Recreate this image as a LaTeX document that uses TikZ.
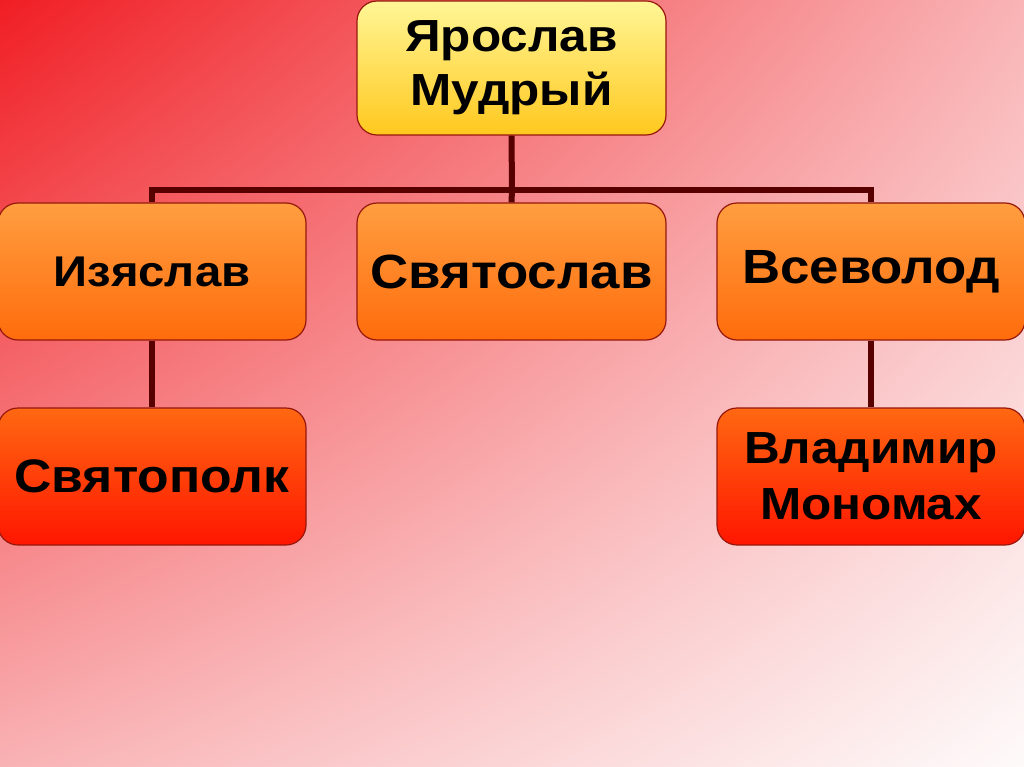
\documentclass[tikz,border=0pt]{standalone}
\usepackage{fontspec}
\setmainfont{Liberation Sans}[FakeStretch=1.1]
\usetikzlibrary{shadings}
\definecolor{bgA}{RGB}{240,30,36}
\definecolor{bgB}{RGB}{249,180,182}
\definecolor{bgC}{RGB}{249,178,180}
\definecolor{bgD}{RGB}{254,250,250}
\definecolor{yTop}{RGB}{255,246,150}
\definecolor{yBot}{RGB}{255,200,30}
\definecolor{oTop}{RGB}{255,158,64}
\definecolor{oBot}{RGB}{255,108,12}
\definecolor{rTop}{RGB}{255,104,18}
\definecolor{rBot}{RGB}{255,22,0}
\definecolor{edge}{RGB}{150,24,12}
\definecolor{conncol}{RGB}{88,0,0}
\tikzset{
  box/.style={draw=edge, line width=1.2pt, rounded corners=20pt,
    minimum width=308pt, minimum height=137pt, inner sep=0pt, align=center,
    font=\fontsize{48}{56}\selectfont\bfseries, text=black},
  ybox/.style={box, top color=yTop, bottom color=yBot},
  obox/.style={box, top color=oTop, bottom color=oBot},
  rbox/.style={box, top color=rTop, bottom color=rBot},
  conn/.style={draw=conncol, line width=6pt, line join=miter}
}
\begin{document}
\begin{tikzpicture}[x=1pt,y=-1pt]
\useasboundingbox (0,0) rectangle (1024,767);
\shade[upper left=bgA, upper right=bgB, lower left=bgC, lower right=bgD] (0,0) rectangle (1024,767);
\coordinate (j) at (512,190);
\node[ybox, minimum height=134pt, minimum width=309pt, font=\fontsize{45}{54}\selectfont\bfseries] (yar) at (511.5,68) {Ярослав\\Мудрый};
\node[obox, font=\fontsize{43}{52}\selectfont\bfseries] (izy) at (152,271.5) {Изяслав};
\node[obox, minimum width=309pt] (svl) at (511.5,271.5) {Святослав};
\node[obox] (vse) at (871,271.5) {Всеволод};
\node[rbox, font=\fontsize{47}{56}\selectfont\bfseries] (svp) at (152,476.5) {Святополк};
\node[rbox, font=\fontsize{45}{56}\selectfont\bfseries] (vla) at (871,476.5) {Владимир\\Мономах};
\draw[conn] (yar.south) -- (j);
\draw[conn] (izy.north) -- (izy.north |- j) -- (vse.north |- j) -- (vse.north);
\draw[conn] (j) -- (svl.north);
\draw[conn] (izy.south) -- (svp.north);
\draw[conn] (vse.south) -- (vla.north);
\end{tikzpicture}
\end{document}
